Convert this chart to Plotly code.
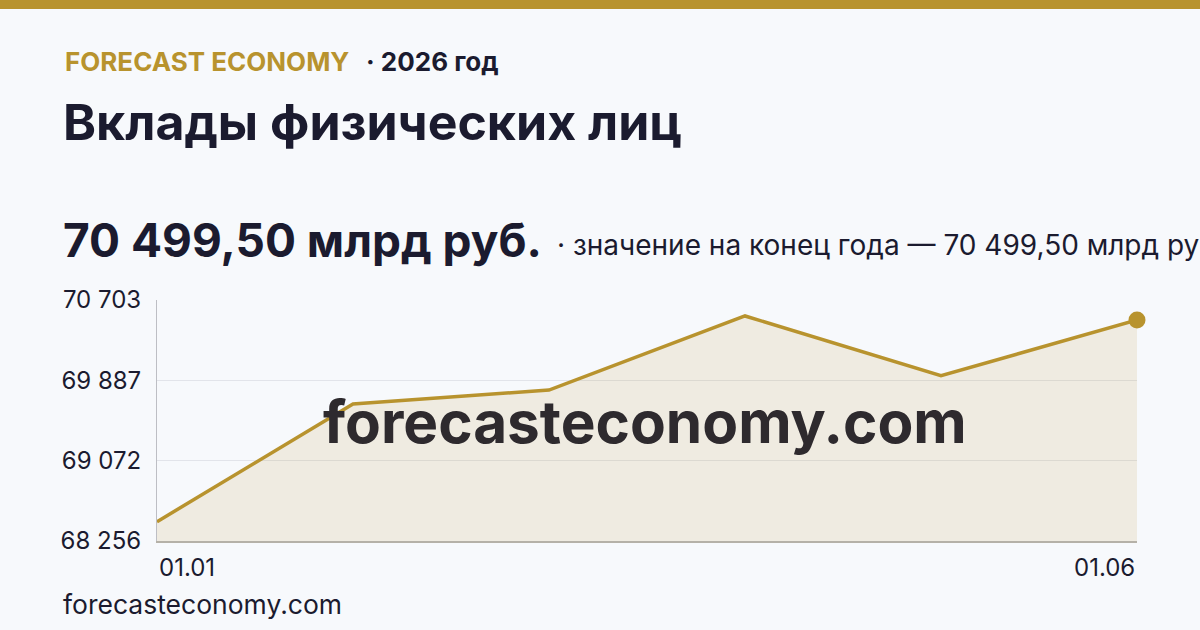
import plotly.graph_objects as go

# ---- data ----
dates = ["01.01", "01.02", "01.03", "01.04", "01.05", "01.06"]
values = [68452, 69647, 69789, 70541, 69934, 70499.50]
y_ticks = [68256, 69071.67, 69887.33, 70703]
y_tick_labels = ["68 256", "69 072", "69 887", "70 703"]
x_tick_labels = ["01.01", "01.06"]

GOLD = "#B8932E"
DARK = "#1B1B2F"
BG = "#F7F9FC"
FONT = "Inter"

W, H = 1200, 630
L, R, T, B = 157, 63, 300, 89
PW, PH = W - L - R, H - T - B


def px(xp):
    return (xp - L) / PW


def py(yp):
    return (H - B - yp) / PH


fig = go.Figure()
fig.add_trace(go.Scatter(
    x=dates, y=values, mode="lines",
    line=dict(color=GOLD, width=3.5),
    fill="tozeroy", fillcolor="rgba(184,147,46,0.13)",
    hoverinfo="skip", showlegend=False,
))
fig.add_trace(go.Scatter(
    x=[dates[-1]], y=[values[-1]], mode="markers",
    marker=dict(color=GOLD, size=17),
    hoverinfo="skip", showlegend=False, cliponaxis=False,
))

fig.update_xaxes(
    type="category", range=[0, len(dates) - 1],
    showgrid=False, zeroline=False, showticklabels=False,
    showline=True, linecolor="#B5B1A8", linewidth=2,
)
fig.update_yaxes(
    range=[y_ticks[0], y_ticks[-1]],
    tickvals=y_ticks, ticktext=y_tick_labels,
    showgrid=True, gridcolor="#E2E4EA", gridwidth=1,
    zeroline=False, showline=True, linecolor="#BDBEC4", linewidth=1,
    tickfont=dict(family=FONT, size=24, color=DARK),
    ticks="", ticklabelstandoff=10,
)

ann = []
# x tick labels (first and last category)
ann.append(dict(x=0, y=py(567), xref="x", yref="paper", text=x_tick_labels[0],
                xanchor="left", yanchor="middle", showarrow=False,
                font=dict(family=FONT, size=24, color=DARK)))
ann.append(dict(x=len(dates) - 1, y=py(567), xref="x", yref="paper", text=x_tick_labels[1],
                xanchor="right", yanchor="middle", showarrow=False,
                font=dict(family=FONT, size=24, color=DARK)))
# header
ann.append(dict(x=px(63), y=py(61), xref="paper", yref="paper", text="<b>FORECAST ECONOMY</b>",
                xanchor="left", yanchor="middle", showarrow=False,
                font=dict(family=FONT, size=26, color=GOLD)))
ann.append(dict(x=px(364), y=py(61), xref="paper", yref="paper", text="<b>· 2026 год</b>",
                xanchor="left", yanchor="middle", showarrow=False,
                font=dict(family=FONT, size=26, color=DARK)))
ann.append(dict(x=px(61), y=py(122), xref="paper", yref="paper", text="<b>Вклады физических лиц</b>",
                xanchor="left", yanchor="middle", showarrow=False,
                font=dict(family=FONT, size=50, color=DARK)))
ann.append(dict(x=px(61), y=py(240), xref="paper", yref="paper", text="<b>70 499,50 млрд руб.</b>",
                xanchor="left", yanchor="middle", showarrow=False,
                font=dict(family=FONT, size=46, color=DARK)))
ann.append(dict(x=px(555), y=py(245), xref="paper", yref="paper",
                text="· значение на конец года — 70 499,50 млрд руб.",
                xanchor="left", yanchor="middle", showarrow=False,
                font=dict(family=FONT, size=28, color=DARK)))
# footer
ann.append(dict(x=px(61), y=py(604), xref="paper", yref="paper", text="forecasteconomy.com",
                xanchor="left", yanchor="middle", showarrow=False,
                font=dict(family=FONT, size=26.5, color=DARK)))
# watermark
ann.append(dict(x=px(645), y=py(421), xref="paper", yref="paper", text="<b>forecasteconomy.com</b>",
                xanchor="center", yanchor="middle", showarrow=False,
                font=dict(family=FONT, size=58.5, color="#2E2A2E")))

fig.update_layout(
    width=W, height=H,
    margin=dict(l=L, r=R, t=T, b=B),
    paper_bgcolor=BG, plot_bgcolor=BG,
    annotations=ann,
    shapes=[dict(type="rect", xref="paper", yref="paper",
                 x0=px(0), x1=px(W), y0=py(9), y1=py(0),
                 fillcolor=GOLD, line=dict(width=0), layer="above")],
)

fig.write_html("out.html", config={"displayModeBar": False},
               post_script="document.body.style.margin='0';document.body.style.overflow='hidden';")
